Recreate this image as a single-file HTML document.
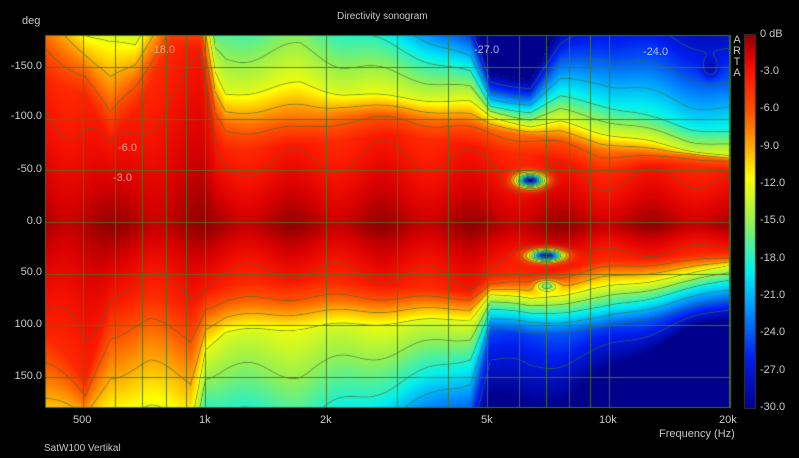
<!DOCTYPE html>
<html><head><meta charset="utf-8"><style>
html,body{margin:0;padding:0;background:#000;width:799px;height:458px;overflow:hidden}
.t{position:absolute;font-family:"Liberation Sans",sans-serif;color:#c8c8c8;font-size:11px;white-space:nowrap}
.yl{right:757px;text-align:right}
canvas{position:absolute;left:0;top:0}
</style></head><body>
<canvas id="c" width="799" height="458"></canvas>
<div class="t" style="left:337px;top:11px;font-size:10px">Directivity sonogram</div>
<div class="t" style="left:22px;top:15px">deg</div>
<div class="t yl" style="top:60px">-150.0</div>
<div class="t yl" style="top:110px">-100.0</div>
<div class="t yl" style="top:163px">-50.0</div>
<div class="t yl" style="top:215px">0.0</div>
<div class="t yl" style="top:266px">50.0</div>
<div class="t yl" style="top:318px">100.0</div>
<div class="t yl" style="top:370px">150.0</div>
<div class="t" style="left:73px;top:414px">500</div>
<div class="t" style="left:199px;top:414px">1k</div>
<div class="t" style="left:320px;top:414px">2k</div>
<div class="t" style="left:481px;top:414px">5k</div>
<div class="t" style="left:599px;top:414px">10k</div>
<div class="t" style="left:719px;top:414px">20k</div>
<div class="t" style="left:659px;top:428px">Frequency (Hz)</div>
<div class="t" style="left:44px;top:443px;font-size:10px">SatW100 Vertikal</div>
<div class="t" style="left:733px;top:35px;font-size:11px;line-height:11px;width:8px;text-align:center">A<br>R<br>T<br>A</div>
<div class="t" style="left:760px;top:28px">0 dB</div>
<div class="t" style="left:760px;top:65px">-3.0</div>
<div class="t" style="left:760px;top:102px">-6.0</div>
<div class="t" style="left:760px;top:140px">-9.0</div>
<div class="t" style="left:760px;top:177px">-12.0</div>
<div class="t" style="left:760px;top:214px">-15.0</div>
<div class="t" style="left:760px;top:252px">-18.0</div>
<div class="t" style="left:760px;top:289px">-21.0</div>
<div class="t" style="left:760px;top:326px">-24.0</div>
<div class="t" style="left:760px;top:364px">-27.0</div>
<div class="t" style="left:760px;top:401px">-30.0</div>
<div class="t" style="left:474px;top:44px;color:rgba(230,230,255,.75)">-27.0</div>
<div class="t" style="left:643px;top:46px;color:rgba(230,230,255,.75)">-24.0</div>
<div class="t" style="left:118px;top:142px;color:rgba(255,220,200,.7)">-6.0</div>
<div class="t" style="left:113px;top:172px;color:rgba(255,220,200,.7)">-3.0</div>
<div class="t" style="left:150px;top:44px;color:rgba(255,255,220,.5)">-18.0</div>
<script>
var cv=document.getElementById('c'),ctx=cv.getContext('2d');
var X0=45,X1=730,Y0=35,Y1=408,W=X1-X0,H=Y1-Y0;
var lev=[0,-3,-6,-12,-18,-24,-30];
var U=[[45,[80,40,-40,-120,-200,-280]],[85,[95,70,30,-10,-50,-90]],[110,[140,110,40,-20,-80,-140]],[135,[110,80,40,0,-40,-80]],[170,[45,20,-30,-80,-130,-180]],[200,[50,25,-20,-70,-120,-170]],[215,[140,110,70,20,-30,-80]],[225,[150,125,90,10,-40,-90]],[300,[145,125,80,0,-50,-100]],[340,[140,115,90,20,-30,-80]],[400,[135,115,95,45,0,-40]],[470,[145,125,100,70,40,10]],[490,[150,130,115,105,90,70]],[530,[155,135,125,110,95,75]],[560,[160,140,120,95,60,25]],[600,[170,150,130,100,50,-20]],[650,[165,155,140,115,60,-10]],[690,[165,155,150,125,70,0]],[730,[170,160,155,130,80,10]]];
var L=[[45,[330,370,440,500,560,620]],[85,[380,400,440,480,520,560]],[110,[300,340,420,470,520,570]],[150,[295,330,420,470,520,570]],[190,[305,345,430,480,530,580]],[205,[290,310,350,410,460,510]],[225,[285,305,335,420,480,540]],[300,[280,300,330,430,490,550]],[380,[285,300,325,395,450,510]],[470,[290,300,320,360,410,460]],[490,[275,285,295,310,330,400]],[530,[275,285,300,315,335,420]],[600,[260,270,290,310,330,380]],[690,[255,262,275,290,310,330]],[730,[250,258,265,280,300,320]]];
function interp(K,x){if(x<=K[0][0])return K[0][1];for(var i=1;i<K.length;i++){if(x<=K[i][0]){var a=K[i-1],b=K[i],t=(x-a[0])/(b[0]-a[0]);return a[1].map(function(v,j){return v+(b[1][j]-v)*t;});}}return K[K.length-1][1];}
function pw(ys,y){for(var i=1;i<ys.length;i++){var a=ys[i-1],b=ys[i];if((y-a)*(y-b)<=0){var t=(y-a)/(b-a);return lev[i-1]+(lev[i]-lev[i-1])*t;}}return -30;}
function g(px,py,cx,cy,sx,sy,a){var dx=(px-cx)/sx,dy=(py-cy)/sy;return a*Math.exp(-(dx*dx+dy*dy));}
var F=new Float32Array(W*H);
for(var x=0;x<W;x++){var px=x+X0;var u=interp(U,px),l=interp(L,px);var c=226;
 var uy=[c].concat(u),ly=[c].concat(l);
 for(var y=0;y<H;y++){var py=y+Y0;var d=py<c?pw(uy,py):pw(ly,py);
  d+=0.5*Math.sin(px*0.07)-0.6;
  d+=g(px,py,530,180,14,7,-26)+g(px,py,546,255,17,6,-26)+g(px,py,546,285,10,5,-9)+g(px,py,710,68,8,10,-3);
  if(d>0)d=0;if(d<-30)d=-30;F[y*W+x]=d;}}
var cs=[[0,[140,0,0]],[-1.5,[215,0,0]],[-3,[250,20,0]],[-6,[255,80,0]],[-9,[255,170,0]],[-11.5,[255,255,0]],[-15,[150,240,80]],[-19,[0,240,240]],[-22,[0,150,255]],[-26,[0,30,240]],[-30,[0,0,140]]];
function col(d){for(var i=1;i<cs.length;i++){if(d>=cs[i][0]){var a=cs[i-1],b=cs[i],t=(d-a[0])/(b[0]-a[0]);return [0,1,2].map(function(k){return a[1][k]+(b[1][k]-a[1][k])*t;});}}return cs[cs.length-1][1];}
var img=ctx.createImageData(W,H);
for(var y=0;y<H;y++)for(var x=0;x<W;x++){var d=F[y*W+x];var c=col(d);
 var gx=x<W-1?F[y*W+x+1]-d:d-F[y*W+x-1],gy=y<H-1?F[(y+1)*W+x]-d:d-F[(y-1)*W+x];
 var gr=Math.sqrt(gx*gx+gy*gy)+1e-3;var q=d/3,fr=Math.abs(q-Math.round(q))*3;var dist=fr/gr;
 if(d>-29.9&&d<-0.1&&dist<0.8){var a=0.7*(1-dist/0.8);c=[c[0]*(1-a)+60*a,c[1]*(1-a)+110*a,c[2]*(1-a)+50*a];}
 var o=(y*W+x)*4;img.data[o]=c[0];img.data[o+1]=c[1];img.data[o+2]=c[2];img.data[o+3]=255;}
ctx.putImageData(img,X0,Y0);
ctx.strokeStyle='rgba(70,120,30,0.9)';ctx.lineWidth=1;
var fs=[500,600,700,800,900,1000,2000,3000,4000,5000,6000,7000,8000,9000,10000,20000];
fs.forEach(function(f){var x=Math.round(730+121.5*Math.log2(f/20000))+0.5;ctx.beginPath();ctx.moveTo(x,Y0);ctx.lineTo(x,Y1);ctx.stroke();});
[-150,-100,-50,0,50,100,150].forEach(function(a){var y=Math.round(222+a*1.033)+0.5;ctx.beginPath();ctx.moveTo(X0,y);ctx.lineTo(X1,y);ctx.stroke();});
ctx.strokeStyle='rgb(40,120,60)';ctx.strokeRect(X0+0.5,Y0+0.5,W-1,H-1);
var gr2=ctx.createLinearGradient(0,35,0,408);
cs.forEach(function(s){gr2.addColorStop(-s[0]/30,'rgb('+s[1].join(',')+')');});
ctx.fillStyle=gr2;ctx.fillRect(745,35,10,373);ctx.strokeStyle='#333';ctx.strokeRect(744.5,34.5,11,374);
</script>
</body></html>
